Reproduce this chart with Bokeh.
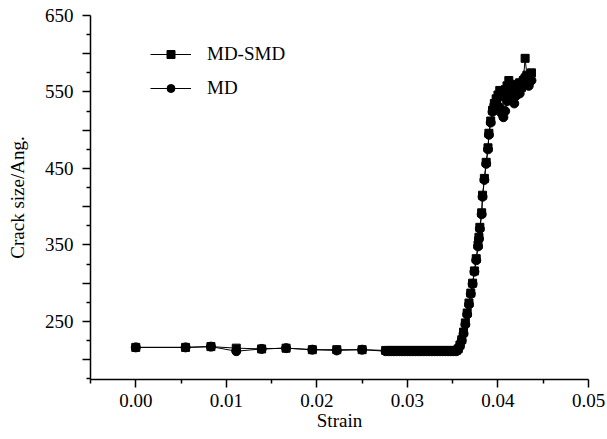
from bokeh.plotting import figure
from bokeh.models import FixedTicker, Range1d, Legend, LegendItem, NumeralTickFormatter
from bokeh.embed import file_html
from bokeh.resources import INLINE

strain = [
    0.0000, 0.0055, 0.0083, 0.0111, 0.0139, 0.0166, 0.0195, 0.0222, 0.0250,
    0.0276, 0.0279, 0.0282, 0.0285, 0.0288, 0.0291, 0.0294, 0.0297, 0.0300,
    0.0303, 0.0306, 0.0309, 0.0312, 0.0315, 0.0318, 0.0321, 0.0324, 0.0327,
    0.0330, 0.0333, 0.0336, 0.0339, 0.0342, 0.0345, 0.0348, 0.0351, 0.0354,
    0.0356, 0.0358, 0.0360, 0.0362, 0.0364, 0.0366, 0.0368, 0.0370, 0.0372,
    0.0374, 0.0376, 0.0378, 0.0379, 0.0380, 0.0382, 0.0383, 0.0385, 0.0387,
    0.0389, 0.0390, 0.0392, 0.0394, 0.0396, 0.0398, 0.0400, 0.0402, 0.0404,
    0.0406, 0.0408, 0.0410, 0.0412, 0.0414, 0.0416, 0.0418, 0.0420, 0.0422,
    0.0424, 0.0426, 0.0428, 0.0430, 0.0432, 0.0434, 0.0437,
]

md_smd = [
    216, 216, 217, 215, 214, 215, 213, 213, 213,
    212, 212, 212, 212, 212, 212, 212, 212, 212,
    212, 212, 212, 212, 212, 212, 212, 212, 212,
    212, 212, 212, 212, 212, 212, 212, 212, 212,
    214, 219, 226, 236, 248, 261, 274, 287, 300,
    316, 332, 350, 360, 373, 392, 415, 437, 458,
    477, 496, 512, 526, 535, 541, 546, 552, 548,
    545, 553, 558, 565, 558, 550, 555, 560, 556,
    562, 556, 565, 594, 572, 568, 575,
]

md = [
    216, 216, 217, 211, 214, 215, 213, 212, 213,
    211, 211, 211, 211, 211, 211, 211, 211, 211,
    211, 211, 211, 211, 211, 211, 211, 211, 211,
    211, 211, 211, 211, 211, 211, 211, 211, 211,
    213, 218, 225, 234, 246, 259, 272, 286, 299,
    315, 330, 348, 358, 371, 390, 413, 435, 456,
    475, 494, 510, 524, 533, 538, 542, 530, 522,
    517, 525, 538, 545, 548, 540, 535, 545, 552,
    548, 560, 566, 570, 562, 558, 565,
]

x_major = [0.0, 0.01, 0.02, 0.03, 0.04, 0.05]
x_minor = [-0.005, 0.005, 0.015, 0.025, 0.035, 0.045]
y_major = [200, 250, 300, 350, 400, 450, 500, 550, 600, 650]
y_minor = [175, 225, 275, 325, 375, 425, 475, 525, 575, 625]
y_labelled = [250, 350, 450, 550, 650]

FONT = "Liberation Serif"

p = figure(width=607, height=439, output_backend="svg", toolbar_location=None,
           x_range=Range1d(-0.005, 0.05), y_range=Range1d(174, 650),
           min_border_left=90, min_border_right=19, min_border_top=15,
           min_border_bottom=60)
p.outline_line_color = None
p.grid.visible = False
p.background_fill_color = "white"

l1 = p.line(strain, md_smd, line_color="black", line_width=1)
s1 = p.scatter(strain, md_smd, marker="square", size=8, fill_color="black", line_color="black")
l2 = p.line(strain, md, line_color="black", line_width=1)
s2 = p.scatter(strain, md, marker="circle", size=9, fill_color="black", line_color="black")

xa = p.xaxis[0]
xa.ticker = FixedTicker(ticks=x_major, minor_ticks=x_minor)
xa.formatter = NumeralTickFormatter(format="0.00")
xa.axis_label = "Strain"
ya = p.yaxis[0]
ya.ticker = FixedTicker(ticks=y_major, minor_ticks=y_minor)
ya.major_label_overrides = {v: ("" if v not in y_labelled else str(v)) for v in y_major}
ya.axis_label = "Crack size/Ang."

for ax in (xa, ya):
    ax.axis_line_color = "black"
    ax.axis_line_width = 1.5
    ax.major_tick_line_color = "black"
    ax.major_tick_line_width = 1.5
    ax.minor_tick_line_color = "black"
    ax.minor_tick_line_width = 1.5
    ax.major_tick_in = 0
    ax.major_tick_out = 8
    ax.minor_tick_in = 0
    ax.minor_tick_out = 4
    ax.major_label_text_font = FONT
    ax.major_label_text_font_size = "19px"
    ax.major_label_text_color = "black"
    ax.axis_label_text_font = FONT
    ax.axis_label_text_font_size = "19px"
    ax.axis_label_text_font_style = "normal"
    ax.axis_label_text_color = "black"

xa.major_label_standoff = 6
xa.axis_label_standoff = 0
ya.major_label_standoff = 9
ya.axis_label_standoff = 14

legend = Legend(items=[LegendItem(label="MD-SMD", renderers=[l1, s1]),
                       LegendItem(label="MD", renderers=[l2, s2])],
                location=(60, 280))
legend.border_line_color = None
legend.background_fill_alpha = 0
legend.glyph_width = 41
legend.glyph_height = 20
legend.label_height = 20
legend.spacing = 12
legend.padding = 0
legend.margin = 0
legend.label_standoff = 16
legend.label_text_font = FONT
legend.label_text_font_size = "19px"
legend.label_text_color = "black"
p.add_layout(legend)

open("out.html", "w").write(file_html(p, INLINE))
